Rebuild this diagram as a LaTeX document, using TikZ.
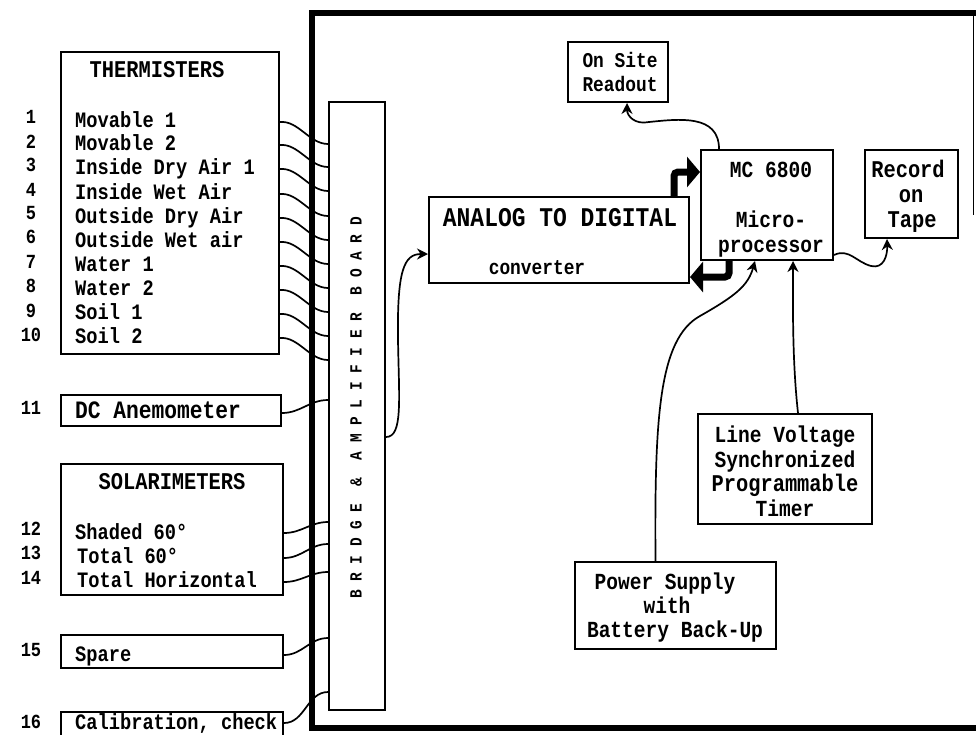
\documentclass[tikz,border=0pt]{standalone}
\usepackage{fontspec}
\setmainfont{Liberation Mono}[FakeStretch=0.85]
\usetikzlibrary{calc,arrows.meta}
\newcommand\fz[1]{\fontsize{#1}{#1}\selectfont\bfseries}
\begin{document}
\begin{tikzpicture}[x=1pt,y=-1pt,
  box/.style={draw,line width=2pt,inner sep=0pt},
  lbl/.style={inner sep=0pt,font=\fz{22},text height=17pt,text depth=3pt},
  ttl/.style={inner sep=0pt,font=\fz{24},text height=16pt,text depth=2pt},
  num/.style={inner sep=0pt,font=\fz{20}},
  wire/.style={line width=1.7pt},
  arr/.style={line width=1.7pt,-{Stealth[length=11pt,width=11pt]}},
  fat/.style={line width=7pt,rounded corners=4pt,-{Triangle[length=13pt,width=30pt]}}]
\useasboundingbox (0,0) rectangle (976,734);
\fill[white] (0,0) rectangle (976,734);

% ---------- left boxes ----------
\node[box,minimum width=218pt,minimum height=302pt] (therm) at (170,203) {};
\node[box,minimum width=220pt,minimum height=31pt] (dcan) at (171,410.5) {};
\node[box,minimum width=222pt,minimum height=131pt] (solar) at (172,529.5) {};
\node[box,minimum width=222pt,minimum height=33pt] (spare) at (172,651.5) {};
\node[box,minimum width=222pt,minimum height=30pt] (calib) at (172,727) {};

\node[ttl] (thtitle) at (157,70) {THERMISTERS};
\node[lbl,anchor=west] (t1) at (75,120) {Movable 1};
\node[lbl,anchor=west] (t2) at (75,143) {Movable 2};
\node[lbl,anchor=west] (t3) at (75,167) {Inside Dry Air 1};
\node[lbl,anchor=west] (t4) at (75,192) {Inside Wet Air};
\node[lbl,anchor=west] (t5) at (75,216) {Outside Dry Air};
\node[lbl,anchor=west] (t6) at (75,240) {Outside Wet air};
\node[lbl,anchor=west] (t7) at (75,264) {Water 1};
\node[lbl,anchor=west] (t8) at (75,288) {Water 2};
\node[lbl,anchor=west] (t9) at (75,312) {Soil 1};
\node[lbl,anchor=west] (t10) at (75,336) {Soil 2};

\node[lbl,anchor=west,font=\fz{25}] (t11) at (75,411) {DC Anemometer};
\node[ttl] (sotitle) at (172,482) {SOLARIMETERS};
\node[lbl,anchor=west] (t12) at (75,532) {Shaded 60°};
\node[lbl,anchor=west] (t13) at (77,556) {Total 60°};
\node[lbl,anchor=west] (t14) at (77,580) {Total Horizontal};
\node[lbl,anchor=west] (t15) at (75,654) {Spare};
\node[lbl,anchor=west] (t16) at (75,722) {Calibration, check};

\node[num] (n1) at (31,117) {1};
\node[num] (n2) at (31,142) {2};
\node[num] (n3) at (31,165) {3};
\node[num] (n4) at (31,190) {4};
\node[num] (n5) at (31,213) {5};
\node[num] (n6) at (31,237) {6};
\node[num] (n7) at (31,262) {7};
\node[num] (n8) at (31,286) {8};
\node[num] (n9) at (31,311) {9};
\node[num] (n10) at (31,335) {10};
\node[num] (n11) at (31,408) {11};
\node[num] (n12) at (31,529) {12};
\node[num] (n13) at (31,553) {13};
\node[num] (n14) at (31,578) {14};
\node[num] (n15) at (31,650) {15};
\node[num] (n16) at (31,722) {16};

% ---------- bridge board ----------
\node[box,minimum width=56pt,minimum height=608pt] (bridge) at (357,406) {};
\node[rotate=90,inner sep=0pt,font=\fz{17}] (btxt) at (356,408)
  {B R I D G E ~\& ~A M P L I F I E R ~B O A R D};

% ---------- wires ----------
\foreach \i in {1,...,10}{
  \draw[wire] ($(therm.east|-t\i)+(0,2)$) to[out=5,in=180,looseness=0.9] ($(bridge.west|-t\i)+(0,24)$);
}
\draw[wire] ($(dcan.east|-t11)+(0,2)$) to[out=0,in=180] ($(bridge.west|-t11)+(0,-11)$);
\draw[wire] ($(solar.east|-t12)+(0,1)$) to[out=0,in=180] ($(bridge.west|-t12)+(0,-10)$);
\draw[wire] ($(solar.east|-t13)+(0,2)$) to[out=0,in=180] ($(bridge.west|-t13)+(0,-12)$);
\draw[wire] ($(solar.east|-t14)+(0,2)$) to[out=0,in=180] ($(bridge.west|-t14)+(0,-8)$);
\draw[wire] ($(spare.east|-t15)+(0,1)$) to[out=0,in=180] ($(bridge.west|-t15)+(0,-16)$);
\draw[wire] ($(calib.east|-t16)+(0,1)$) to[out=0,in=180] ($(bridge.west|-t16)+(0,-30)$);

% ---------- thick frame ----------
\coordinate (ftl) at (312,13);
\coordinate (fbl) at (312,728);
\coordinate (ftr) at (980,13);
\coordinate (fbr) at (980,728);
\coordinate (frt) at (973,13);
\coordinate (frr) at (973,215);
\draw[line width=6pt] (ftr) -- (ftl) -- (fbl) -- (fbr);
\draw[line width=1pt] (frt) -- (frr);

% ---------- right side boxes ----------
\node[box,minimum width=100pt,minimum height=60pt] (readout) at (618,72) {};
\node[lbl,font=\fz{21}] (rd1) at (620,60) {On Site};
\node[lbl,font=\fz{21}] (rd2) at (620,84) {Readout};

\node[box,minimum width=260pt,minimum height=86pt] (adc) at (559,240) {};
\node[lbl,font=\fz{27}] (adc1) at (560,219) {ANALOG TO DIGITAL};
\node[lbl,font=\fz{21}] (adc2) at (537,267) {converter};

\node[box,minimum width=132pt,minimum height=110pt] (mc) at (767,205) {};
\node[lbl,font=\fz{23}] (mc1) at (771,170) {MC 6800};
\node[lbl,font=\fz{23}] (mc2) at (771,220) {Micro-};
\node[lbl,font=\fz{23}] (mc3) at (771,245) {processor};

\node[box,minimum width=93pt,minimum height=88pt] (record) at (911.5,194) {};
\node[lbl,font=\fz{24}] (rc1) at (908,170) {Record};
\node[lbl,font=\fz{24}] (rc2) at (911,195) {on};
\node[lbl,font=\fz{24}] (rc3) at (912,220) {Tape};

\node[box,minimum width=174pt,minimum height=110pt] (linev) at (785,469) {};
\node[lbl,font=\fz{23}] (lv1) at (785,435) {Line Voltage};
\node[lbl,font=\fz{23}] (lv2) at (785,460) {Synchronized};
\node[lbl,font=\fz{24}] (lv3) at (785,484) {Programmable};
\node[lbl,font=\fz{23}] (lv4) at (785,509) {Timer};

\node[box,minimum width=201pt,minimum height=87pt] (power) at (675.5,605.5) {};
\node[lbl,font=\fz{23}] (pw1) at (665,582) {Power Supply};
\node[lbl,font=\fz{23}] (pw2) at (667,606) {with};
\node[lbl,font=\fz{23}] (pw3) at (675,630) {Battery Back-Up};

% ---------- connectors ----------
\draw[arr] ($(bridge.east)+(0,31)$) .. controls ($(bridge.east)+(17,31)$) and ($(bridge.east)+(13,-6)$) ..
  ($(bridge.east)+(12,-66)$) .. controls ($(bridge.east)+(11,-136)$) and ($(adc.west)+(-24,14)$) .. ($(adc.west)+(0,14)$);

\draw[fat] ($(adc.north east)+(-16,0)$) |- ($(mc.west)+(0,-33)$);
\draw[fat] ($(mc.south west)+(29,0)$) |- ($(adc.east)+(0,37)$);

\draw[arr] ($(mc.north west)+(19,0)$) .. controls ($(mc.north west)+(19,-35)$) and ($(mc.north west)+(-21,-30)$) ..
  ($(mc.north west)+(-51,-27)$) .. controls ($(readout.south)+(17,22)$) and ($(readout.south)+(9,13)$) .. ($(readout.south)+(9,0)$);

\draw[arr] ($(mc.east)+(0,50)$) .. controls ($(mc.east)+(15,43)$) and ($(mc.east)+(22,57)$) ..
  ($(mc.east)+(37,61)$) .. controls ($(record.south)+(-28,30)$) and ($(record.south)+(-24,17)$) .. ($(record.south)+(-24.5,0)$);

\draw[arr] ($(power.north)+(-20,0)$) .. controls ($(power.north)+(-21,-142)$) and ($(power.north)+(-17,-222)$) ..
  ($(mc.south)+(-67,55)$) .. controls ($(mc.south)+(-32,35)$) and ($(mc.south)+(-19,25)$) .. ($(mc.south)+(-12,0)$);

\draw[arr] ($(linev.north)+(13,0)$) .. controls ($(linev.north)+(7,-54)$) and ($(mc.south)+(26,40)$) .. ($(mc.south)+(26,0)$);
\end{tikzpicture}
\end{document}
